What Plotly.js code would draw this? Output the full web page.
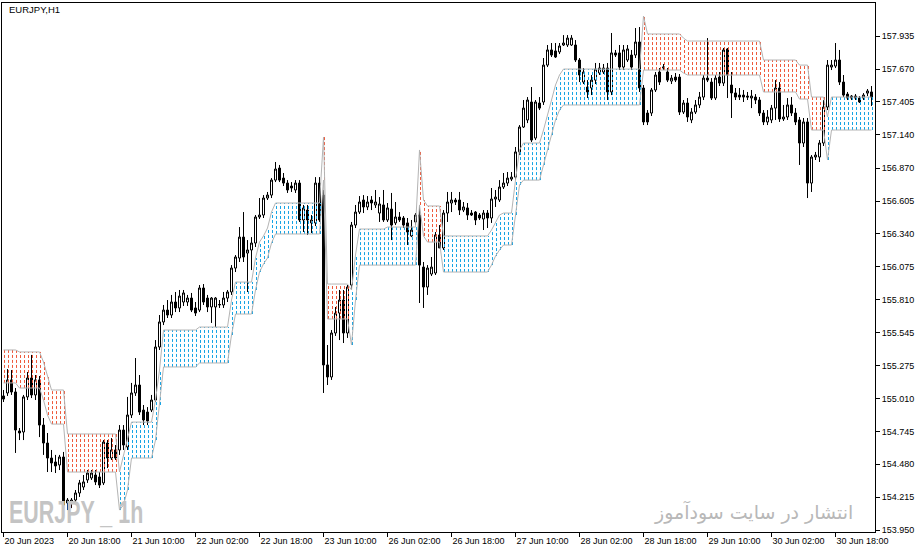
<!DOCTYPE html>
<html>
<head>
<meta charset="utf-8">
<script src="https://cdn.plot.ly/plotly-3.0.1.min.js"></script>
<style>
  html, body { margin: 0; padding: 0; background: #fff; }
  #chart { width: 920px; height: 554px; }
</style>
</head>
<body>
<div id="chart"></div>
<script>
// EURJPY H1, one bar per hour (weekend skipped)
const symbolTitle = 'EURJPY,H1';

const openP = [
  155.032, 155.056, 155.161, 155.064, 154.749, 154.741, 155.024, 155.177, 155.040, 155.161,
  154.797, 154.652, 154.531, 154.499, 154.475, 154.539, 154.168, 154.168, 154.192, 154.249,
  154.297, 154.354, 154.370, 154.394, 154.378, 154.330, 154.652, 154.531, 154.596, 154.596,
  154.757, 154.620, 154.878, 155.056, 155.120, 154.918, 154.902, 154.918, 154.999, 155.427,
  155.629, 155.725, 155.685, 155.790, 155.742, 155.790, 155.790, 155.822, 155.742, 155.725,
  155.903, 155.822, 155.750, 155.750, 155.766, 155.766, 155.822, 155.871, 156.064, 156.145,
  156.314, 156.185, 156.210, 156.266, 156.476, 156.492, 156.629, 156.653, 156.774, 156.871,
  156.790, 156.750, 156.726, 156.694, 156.750, 156.452, 156.532, 156.428, 156.428, 156.750,
  156.653, 155.282, 155.185, 155.540, 155.701, 155.806, 155.540, 155.927, 156.411, 156.516,
  156.613, 156.557, 156.613, 156.573, 156.508, 156.573, 156.452, 156.540, 156.428, 156.476,
  156.468, 156.428, 156.323, 156.436, 156.492, 156.072, 155.911, 156.016, 156.024, 156.331,
  156.226, 156.508, 156.589, 156.613, 156.613, 156.532, 156.549, 156.508, 156.516, 156.492,
  156.460, 156.508, 156.468, 156.621, 156.613, 156.718, 156.750, 156.782, 156.798, 157.001,
  157.202, 157.259, 157.404, 157.113, 157.396, 157.404, 157.702, 157.824, 157.816, 157.808,
  157.864, 157.864, 157.864, 157.864, 157.743, 157.565, 157.525, 157.517, 157.581, 157.638,
  157.646, 157.678, 157.485, 157.800, 157.800, 157.686, 157.743, 157.783, 157.783, 157.888,
  157.517, 157.315, 157.315, 157.501, 157.646, 157.678, 157.646, 157.573, 157.605, 157.605,
  157.323, 157.396, 157.259, 157.323, 157.380, 157.444, 157.597, 157.565, 157.436, 157.605,
  157.557, 157.832, 157.541, 157.477, 157.460, 157.460, 157.452, 157.436, 157.444, 157.420,
  157.315, 157.243, 157.259, 157.355, 157.517, 157.267, 157.283, 157.380, 157.315, 157.259,
  157.073, 157.243, 156.750, 156.960, 156.960, 157.073, 157.363, 157.686, 157.694, 157.743,
  157.565, 157.468, 157.452, 157.452, 157.436, 157.436, 157.476, 157.485
];
const highP = [
  155.080, 155.249, 155.241, 155.096, 154.773, 155.040, 155.225, 155.363, 155.201, 155.193,
  154.854, 154.733, 154.596, 154.556, 154.556, 154.580, 154.208, 154.208, 154.273, 154.354,
  154.394, 154.434, 154.434, 154.434, 154.418, 154.676, 154.676, 154.692, 154.636, 154.797,
  154.797, 155.024, 155.137, 155.338, 155.201, 154.959, 154.942, 155.040, 155.483, 155.685,
  155.766, 155.806, 155.847, 155.871, 155.887, 155.887, 155.847, 155.863, 155.790, 155.927,
  155.935, 155.847, 155.830, 155.830, 155.806, 155.871, 155.887, 156.088, 156.169, 156.395,
  156.516, 156.290, 156.314, 156.492, 156.629, 156.653, 156.678, 156.790, 156.920, 156.896,
  156.831, 156.774, 156.758, 156.774, 156.774, 156.573, 156.573, 156.492, 156.798, 156.798,
  156.694, 155.443, 155.564, 155.750, 155.887, 155.887, 155.927, 156.436, 156.573, 156.645,
  156.653, 156.645, 156.645, 156.694, 156.637, 156.694, 156.589, 156.670, 156.597, 156.516,
  156.484, 156.468, 156.452, 156.508, 156.573, 156.113, 156.088, 156.153, 156.355, 156.411,
  156.532, 156.678, 156.678, 156.629, 156.678, 156.597, 156.589, 156.532, 156.524, 156.508,
  156.532, 156.532, 156.710, 156.694, 156.774, 156.831, 156.839, 156.839, 157.041, 157.218,
  157.420, 157.444, 157.525, 157.420, 157.444, 157.759, 157.864, 157.880, 157.880, 157.880,
  157.944, 157.944, 157.944, 157.904, 157.759, 157.678, 157.581, 157.622, 157.719, 157.719,
  157.711, 157.719, 157.961, 157.824, 157.864, 157.864, 157.864, 157.824, 158.001, 158.009,
  157.541, 157.339, 157.517, 157.646, 157.678, 157.711, 157.678, 157.622, 157.638, 157.630,
  157.420, 157.436, 157.355, 157.420, 157.485, 157.622, 157.920, 157.597, 157.622, 157.646,
  157.840, 157.840, 157.646, 157.517, 157.517, 157.501, 157.485, 157.501, 157.468, 157.444,
  157.339, 157.339, 157.380, 157.581, 157.565, 157.380, 157.436, 157.444, 157.355, 157.283,
  157.275, 157.275, 156.976, 157.001, 157.097, 157.420, 157.743, 157.743, 157.880, 157.824,
  157.622, 157.485, 157.460, 157.468, 157.452, 157.476, 157.509, 157.533
];
const lowP = [
  154.983, 155.032, 155.040, 154.572, 154.676, 154.676, 154.999, 155.015, 154.999, 154.700,
  154.556, 154.418, 154.418, 154.410, 154.434, 154.063, 154.111, 154.127, 154.168, 154.217,
  154.273, 154.330, 154.354, 154.313, 154.289, 154.313, 154.450, 154.515, 154.515, 154.556,
  154.596, 154.596, 154.854, 155.032, 154.878, 154.797, 154.797, 154.902, 154.983, 155.403,
  155.604, 155.661, 155.661, 155.709, 155.709, 155.758, 155.758, 155.709, 155.677, 155.709,
  155.766, 155.709, 155.621, 155.588, 155.742, 155.742, 155.790, 155.847, 156.032, 156.113,
  156.113, 155.871, 156.048, 156.234, 156.460, 156.468, 156.613, 156.629, 156.758, 156.758,
  156.726, 156.670, 156.678, 156.670, 156.436, 156.355, 156.331, 156.347, 156.403, 156.436,
  155.056, 155.120, 155.161, 155.516, 155.483, 155.459, 155.500, 155.887, 156.387, 156.500,
  156.508, 156.532, 156.532, 156.549, 156.436, 156.436, 156.436, 156.290, 156.411, 156.436,
  156.387, 156.250, 156.314, 156.411, 155.782, 155.742, 155.847, 156.000, 156.008, 156.226,
  156.210, 156.436, 156.516, 156.573, 156.492, 156.516, 156.452, 156.484, 156.411, 156.452,
  156.371, 156.387, 156.428, 156.557, 156.597, 156.702, 156.726, 156.766, 156.774, 156.976,
  157.194, 157.234, 157.081, 157.097, 157.339, 157.380, 157.686, 157.767, 157.759, 157.791,
  157.856, 157.848, 157.856, 157.727, 157.565, 157.549, 157.436, 157.460, 157.549, 157.622,
  157.630, 157.420, 157.460, 157.767, 157.662, 157.662, 157.727, 157.662, 157.759, 157.485,
  157.218, 157.218, 157.291, 157.485, 157.541, 157.662, 157.565, 157.549, 157.565, 157.299,
  157.307, 157.243, 157.234, 157.307, 157.355, 157.420, 157.565, 157.420, 157.420, 157.533,
  157.533, 157.436, 157.275, 157.420, 157.420, 157.404, 157.420, 157.355, 157.388, 157.291,
  157.218, 157.218, 157.234, 157.259, 157.243, 157.251, 157.259, 157.291, 157.218, 156.896,
  157.041, 156.629, 156.678, 156.936, 156.920, 157.049, 157.339, 157.662, 157.678, 157.541,
  157.444, 157.420, 157.420, 157.420, 157.396, 157.420, 157.452, 157.372
];
const closeP = [
  155.007, 155.161, 155.064, 154.757, 154.733, 155.024, 155.177, 155.040, 155.161, 154.797,
  154.652, 154.531, 154.491, 154.467, 154.539, 154.152, 154.192, 154.192, 154.249, 154.330,
  154.338, 154.410, 154.410, 154.338, 154.313, 154.660, 154.531, 154.596, 154.531, 154.757,
  154.636, 154.878, 155.056, 155.120, 154.902, 154.838, 154.830, 154.999, 155.427, 155.629,
  155.725, 155.685, 155.790, 155.742, 155.838, 155.863, 155.822, 155.725, 155.701, 155.903,
  155.790, 155.750, 155.822, 155.822, 155.770, 155.822, 155.871, 156.064, 156.153, 156.314,
  156.153, 156.210, 156.266, 156.476, 156.492, 156.629, 156.653, 156.774, 156.863, 156.774,
  156.750, 156.694, 156.710, 156.750, 156.452, 156.549, 156.452, 156.452, 156.750, 156.452,
  155.282, 155.185, 155.540, 155.701, 155.806, 155.540, 155.911, 156.411, 156.516, 156.597,
  156.557, 156.597, 156.589, 156.597, 156.581, 156.452, 156.549, 156.411, 156.476, 156.452,
  156.411, 156.355, 156.371, 156.492, 156.088, 155.911, 156.064, 156.072, 156.331, 156.226,
  156.508, 156.597, 156.613, 156.597, 156.532, 156.557, 156.492, 156.492, 156.452, 156.468,
  156.508, 156.468, 156.621, 156.637, 156.718, 156.750, 156.790, 156.798, 157.001, 157.202,
  157.355, 157.420, 157.097, 157.404, 157.355, 157.702, 157.824, 157.783, 157.767, 157.856,
  157.880, 157.920, 157.920, 157.743, 157.622, 157.646, 157.485, 157.581, 157.670, 157.678,
  157.678, 157.485, 157.800, 157.783, 157.686, 157.824, 157.832, 157.686, 157.888, 157.517,
  157.243, 157.243, 157.501, 157.622, 157.565, 157.686, 157.581, 157.597, 157.581, 157.323,
  157.396, 157.283, 157.323, 157.380, 157.444, 157.597, 157.581, 157.436, 157.597, 157.557,
  157.824, 157.622, 157.477, 157.444, 157.444, 157.444, 157.444, 157.452, 157.420, 157.315,
  157.243, 157.283, 157.355, 157.517, 157.267, 157.283, 157.380, 157.315, 157.243, 157.073,
  157.243, 156.750, 156.960, 156.976, 157.073, 157.363, 157.702, 157.702, 157.743, 157.565,
  157.460, 157.436, 157.436, 157.436, 157.404, 157.460, 157.493, 157.444
];

// channel indicator: upper / lower edge and direction (1 = up, blue; -1 = down, red)
const bandUp = [
  155.403, 155.403, 155.403, 155.403, 155.387, 155.387, 155.387, 155.387, 155.387, 155.387,
  155.306, 155.201, 155.080, 155.080, 155.080, 155.080, 154.725, 154.725, 154.725, 154.725,
  154.725, 154.725, 154.725, 154.725, 154.725, 154.725, 154.725, 154.725, 154.725, 154.418,
  154.556, 154.676, 154.821, 154.821, 154.821, 154.821, 154.821, 154.821, 154.999, 155.241,
  155.564, 155.564, 155.564, 155.564, 155.564, 155.564, 155.564, 155.564, 155.564, 155.588,
  155.588, 155.588, 155.588, 155.588, 155.588, 155.588, 155.588, 155.806, 155.951, 155.951,
  155.951, 155.951, 155.951, 156.145, 156.274, 156.323, 156.387, 156.516, 156.589, 156.589,
  156.589, 156.589, 156.589, 156.589, 156.589, 156.589, 156.589, 156.589, 156.589, 156.589,
  157.121, 155.935, 155.935, 155.935, 155.935, 155.935, 155.935, 155.887, 156.169, 156.379,
  156.379, 156.379, 156.379, 156.379, 156.379, 156.379, 156.395, 156.395, 156.395, 156.395,
  156.395, 156.395, 156.395, 156.395, 157.017, 156.613, 156.565, 156.565, 156.565, 156.565,
  156.323, 156.323, 156.323, 156.323, 156.323, 156.323, 156.323, 156.323, 156.323, 156.323,
  156.323, 156.323, 156.371, 156.436, 156.492, 156.508, 156.508, 156.508, 156.774, 157.017,
  157.073, 157.073, 157.073, 157.073, 157.073, 157.178, 157.299, 157.420, 157.541, 157.622,
  157.670, 157.670, 157.670, 157.670, 157.670, 157.670, 157.670, 157.670, 157.670, 157.670,
  157.670, 157.670, 157.670, 157.670, 157.670, 157.670, 157.670, 157.670, 157.670, 157.670,
  158.098, 157.953, 157.953, 157.953, 157.953, 157.953, 157.953, 157.953, 157.953, 157.953,
  157.920, 157.896, 157.896, 157.896, 157.896, 157.896, 157.896, 157.896, 157.896, 157.896,
  157.896, 157.896, 157.896, 157.896, 157.896, 157.896, 157.896, 157.896, 157.896, 157.896,
  157.743, 157.743, 157.743, 157.743, 157.743, 157.743, 157.743, 157.743, 157.743, 157.702,
  157.702, 157.702, 157.444, 157.444, 157.444, 157.444, 157.283, 157.444, 157.444, 157.444,
  157.444, 157.444, 157.444, 157.444, 157.444, 157.444, 157.444, 157.444
];
const bandLo = [
  155.137, 155.137, 155.137, 155.137, 155.096, 155.096, 155.096, 155.096, 155.096, 155.096,
  154.999, 154.878, 154.805, 154.805, 154.805, 154.805, 154.418, 154.418, 154.418, 154.418,
  154.418, 154.418, 154.418, 154.418, 154.418, 154.418, 154.418, 154.418, 154.418, 154.111,
  154.152, 154.273, 154.531, 154.531, 154.531, 154.531, 154.531, 154.531, 154.676, 154.959,
  155.266, 155.266, 155.266, 155.266, 155.266, 155.266, 155.266, 155.266, 155.266, 155.298,
  155.298, 155.298, 155.298, 155.298, 155.298, 155.298, 155.298, 155.524, 155.693, 155.693,
  155.693, 155.693, 155.693, 155.887, 156.032, 156.097, 156.145, 156.266, 156.339, 156.339,
  156.339, 156.339, 156.339, 156.339, 156.339, 156.339, 156.339, 156.339, 156.339, 156.339,
  156.774, 155.653, 155.653, 155.653, 155.653, 155.653, 155.653, 155.443, 155.806, 156.088,
  156.088, 156.088, 156.088, 156.088, 156.088, 156.088, 156.088, 156.088, 156.088, 156.088,
  156.088, 156.088, 156.088, 156.088, 156.573, 156.323, 156.274, 156.274, 156.274, 156.274,
  156.032, 156.032, 156.032, 156.032, 156.032, 156.032, 156.032, 156.032, 156.032, 156.032,
  156.032, 156.032, 156.088, 156.161, 156.210, 156.250, 156.250, 156.250, 156.492, 156.734,
  156.774, 156.774, 156.774, 156.774, 156.774, 156.896, 157.017, 157.137, 157.259, 157.339,
  157.380, 157.380, 157.380, 157.380, 157.380, 157.380, 157.380, 157.380, 157.380, 157.380,
  157.380, 157.380, 157.380, 157.380, 157.380, 157.380, 157.380, 157.380, 157.380, 157.380,
  157.662, 157.662, 157.662, 157.662, 157.662, 157.662, 157.662, 157.662, 157.662, 157.662,
  157.638, 157.622, 157.622, 157.622, 157.622, 157.622, 157.622, 157.622, 157.622, 157.622,
  157.622, 157.622, 157.622, 157.622, 157.622, 157.622, 157.622, 157.622, 157.622, 157.622,
  157.485, 157.485, 157.485, 157.485, 157.485, 157.485, 157.485, 157.485, 157.485, 157.428,
  157.428, 157.428, 157.178, 157.178, 157.178, 157.178, 156.936, 157.178, 157.178, 157.178,
  157.178, 157.178, 157.178, 157.178, 157.178, 157.178, 157.178, 157.178
];
const trend = [
  -1, -1, -1, -1, -1, -1, -1, -1, -1, -1,
  -1, -1, -1, -1, -1, -1, -1, -1, -1, -1,
  -1, -1, -1, -1, -1, -1, -1, -1, -1,  1,
   1,  1,  1,  1,  1,  1,  1,  1,  1,  1,
   1,  1,  1,  1,  1,  1,  1,  1,  1,  1,
   1,  1,  1,  1,  1,  1,  1,  1,  1,  1,
   1,  1,  1,  1,  1,  1,  1,  1,  1,  1,
   1,  1,  1,  1,  1,  1,  1,  1,  1,  1,
  -1, -1, -1, -1, -1, -1, -1,  1,  1,  1,
   1,  1,  1,  1,  1,  1,  1,  1,  1,  1,
   1,  1,  1,  1, -1, -1, -1, -1, -1, -1,
   1,  1,  1,  1,  1,  1,  1,  1,  1,  1,
   1,  1,  1,  1,  1,  1,  1,  1,  1,  1,
   1,  1,  1,  1,  1,  1,  1,  1,  1,  1,
   1,  1,  1,  1,  1,  1,  1,  1,  1,  1,
   1,  1,  1,  1,  1,  1,  1,  1,  1,  1,
  -1, -1, -1, -1, -1, -1, -1, -1, -1, -1,
  -1, -1, -1, -1, -1, -1, -1, -1, -1, -1,
  -1, -1, -1, -1, -1, -1, -1, -1, -1, -1,
  -1, -1, -1, -1, -1, -1, -1, -1, -1, -1,
  -1, -1, -1, -1, -1, -1,  1,  1,  1,  1,
   1,  1,  1,  1,  1,  1,  1,  1
];

// time axis: a label every 16 bars
const timeTickBars = [0, 16, 32, 48, 64, 80, 96, 112, 128, 144, 160, 176, 192, 208];
const timeLabels = ['20 Jun 2023', '20 Jun 18:00', '21 Jun 10:00', '22 Jun 02:00', '22 Jun 18:00',
  '23 Jun 10:00', '26 Jun 02:00', '26 Jun 18:00', '27 Jun 10:00', '28 Jun 02:00', '28 Jun 18:00',
  '29 Jun 10:00', '30 Jun 02:00', '30 Jun 18:00'];
const priceTicks = [157.935, 157.670, 157.405, 157.140, 156.870, 156.605, 156.340, 156.075,
  155.810, 155.545, 155.275, 155.010, 154.745, 154.480, 154.215, 153.950];

const watermarkLeft = 'EURJPY _ 1h';
const watermarkRight = 'انتشار در سایت سودآموز';

const bars = openP.map((_, i) => i);
const RED = '#ee5a3c', BLUE = '#17a4e4', EDGE = '#b4b4b4';

// vertical dashed strokes between the two edges, one per bar (sit 1px right of the candle)
function bandFill(dir, color) {
  const xs = [], ys = [];
  for (let i = 0; i < bars.length; i++) {
    if (trend[i] !== dir) continue;
    xs.push(i + 0.25, i + 0.25, null);
    ys.push(bandLo[i], bandUp[i], null);
  }
  return { x: xs, y: ys, type: 'scatter', mode: 'lines', hoverinfo: 'skip', showlegend: false,
    line: { color: color, width: 1, dash: '3px,2px' } };
}
function edge(vals) {
  return { x: bars, y: vals, type: 'scatter', mode: 'lines', hoverinfo: 'skip', showlegend: false,
    line: { color: EDGE, width: 1 } };
}

const traces = [
  bandFill(-1, RED),
  bandFill(1, BLUE),
  edge(bandUp),
  edge(bandLo),
  { type: 'candlestick', x: bars, open: openP, high: highP, low: lowP, close: closeP,
    increasing: { line: { color: '#000', width: 1 }, fillcolor: '#fff' },
    decreasing: { line: { color: '#000', width: 1 }, fillcolor: '#000' },
    whiskerwidth: 0, hoverinfo: 'skip', showlegend: false }
];

const tickFont = { family: 'Liberation Sans, Arial, sans-serif', size: 9, color: '#000' };
const layout = {
  width: 920, height: 554,
  margin: { l: 2, r: 45, t: 3, b: 22, pad: 0 },
  paper_bgcolor: '#fff', plot_bgcolor: '#fff',
  showlegend: false,
  boxgap: 0.5, boxgroupgap: 0,
  xaxis: {
    range: [-0.375, 217.875], rangeslider: { visible: false },
    showgrid: false, zeroline: false, showline: true, mirror: true, linecolor: '#000', linewidth: 1,
    ticks: 'outside', ticklen: 4, tickcolor: '#000',
    tickvals: timeTickBars, ticktext: timeLabels, ticklabelposition: 'outside right',
    tickfont: tickFont, fixedrange: true
  },
  yaxis: {
    side: 'right', range: [153.934, 158.203],
    showgrid: false, zeroline: false, showline: true, mirror: true, linecolor: '#000', linewidth: 1,
    ticks: 'outside', ticklen: 4, tickcolor: '#000',
    tickvals: priceTicks, ticktext: priceTicks.map(v => v.toFixed(3)),
    tickfont: tickFont, fixedrange: true
  },
  annotations: [
    { text: symbolTitle, xref: 'paper', yref: 'paper', x: 0.006, y: 0.988, xanchor: 'left', yanchor: 'middle',
      showarrow: false, font: { family: 'Liberation Sans, Arial, sans-serif', size: 9.5, color: '#000' } },
    { text: '<b>' + watermarkLeft + '</b>', xref: 'paper', yref: 'paper', x: 0.006, y: 0.038,
      xanchor: 'left', yanchor: 'middle', showarrow: false,
      font: { family: 'Liberation Sans, Arial, sans-serif', size: 32, color: '#c4c4c4' } },
    { text: watermarkRight, xref: 'paper', yref: 'paper', x: 0.977, y: 0.037,
      xanchor: 'right', yanchor: 'middle', showarrow: false,
      font: { family: 'DejaVu Sans, sans-serif', size: 19, color: '#b8b8b8' } }
  ]
};

Plotly.newPlot('chart', traces, layout, { displayModeBar: false, staticPlot: true }).then(gd => {
  // the terminal's watermark font is a narrow one: squeeze it horizontally
  const wm = gd.querySelectorAll('.annotation-text')[1];
  if (wm) {
    wm.style.transformBox = 'fill-box';
    wm.style.transformOrigin = 'left center';
    wm.style.transform = 'scaleX(0.67)';
  }
});
</script>
</body>
</html>
